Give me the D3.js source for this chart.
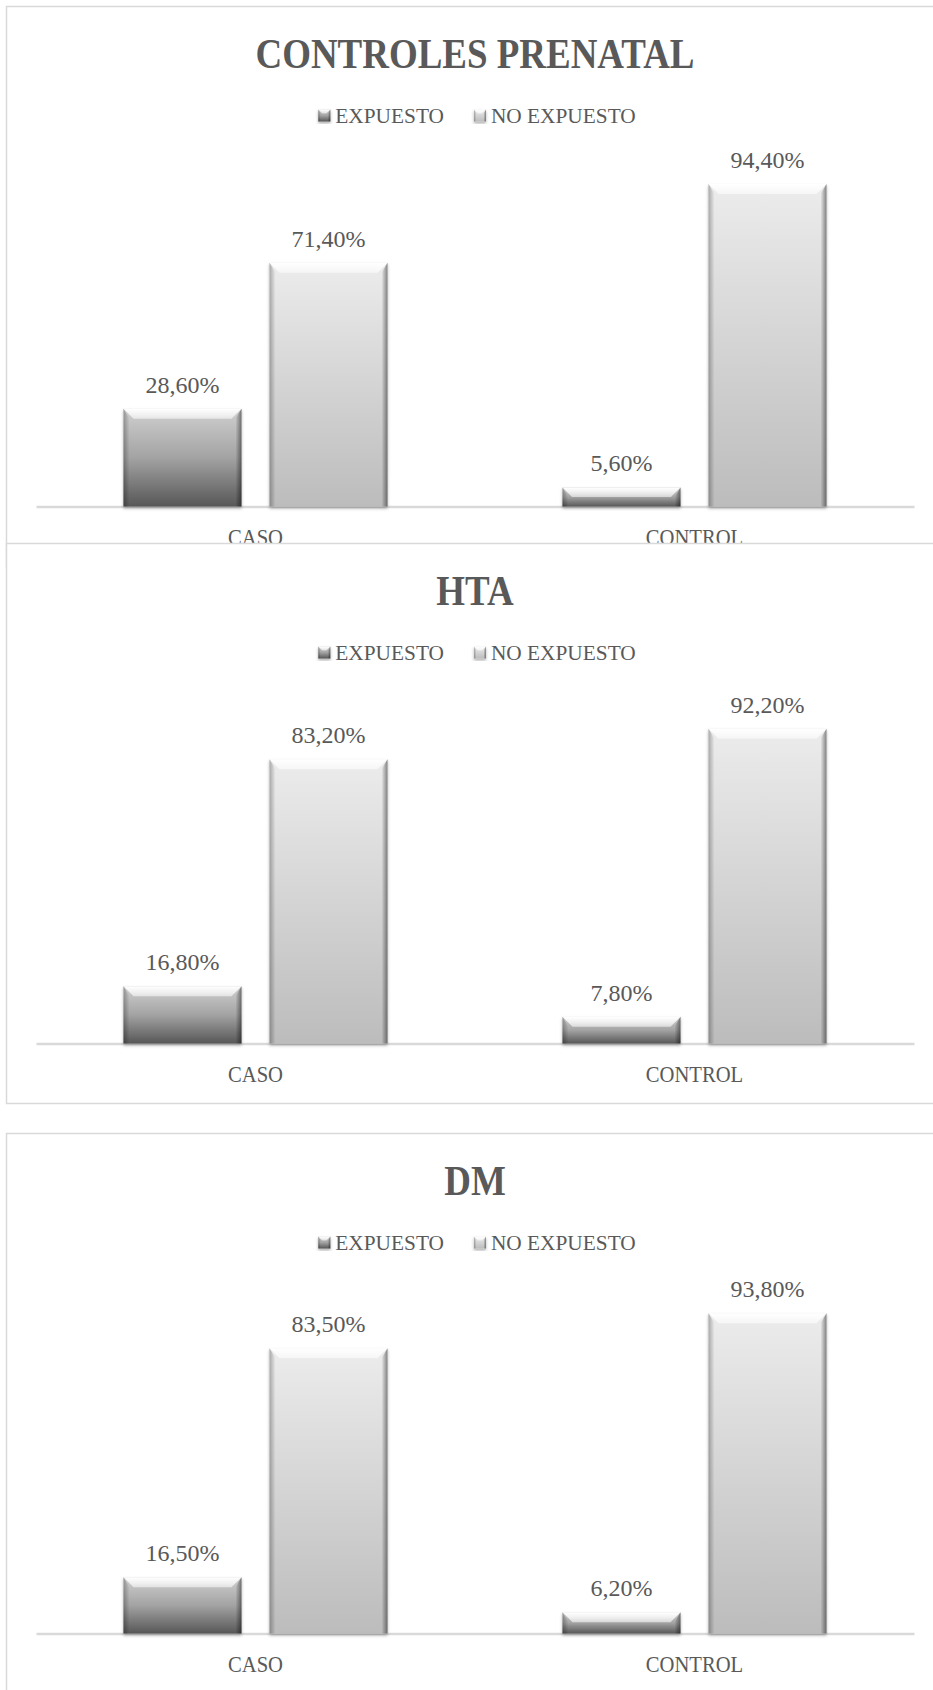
<!DOCTYPE html>
<html><head><meta charset="utf-8">
<script src="https://cdn.jsdelivr.net/npm/d3@7"></script>
<style>html,body{margin:0;padding:0;background:#fff;}svg{display:block;}</style>
</head><body><svg id="c" width="933" height="1690"></svg>
<script>
const categories = ["CASO", "CONTROL"];
const seriesNames = ["EXPUESTO", "NO EXPUESTO"];
const chartTitles = ["CONTROLES PRENATAL", "HTA", "DM"];
const prenatalExpuesto = [28.6, 5.6];
const prenatalNoExpuesto = [71.4, 94.4];
const htaExpuesto = [16.8, 7.8];
const htaNoExpuesto = [83.2, 92.2];
const dmExpuesto = [16.5, 6.2];
const dmNoExpuesto = [83.5, 93.8];
const valueDomain = [0, 100];

const charts = [
  {title: chartTitles[0], values: [prenatalExpuesto, prenatalNoExpuesto], top: 6.5},
  {title: chartTitles[1], values: [htaExpuesto, htaNoExpuesto], top: 543.5},
  {title: chartTitles[2], values: [dmExpuesto, dmNoExpuesto], top: 1133.5}
];

const FONT = "'Liberation Serif', 'DejaVu Serif', serif";
const TXT = "#595959";
const svg = d3.select("#c");
const defs = svg.append("defs");
function linGrad(id, x2, y2, stops) {
  const g = defs.append("linearGradient").attr("id", id)
    .attr("x1", 0).attr("y1", 0).attr("x2", x2).attr("y2", y2);
  stops.forEach(s => g.append("stop").attr("offset", s[0]).attr("stop-color", s[1])
    .attr("stop-opacity", s[2] === undefined ? 1 : s[2]));
}
linGrad("gExp", 0, 1, [[0, "#d0d0d0"], [0.5, "#a3a3a3"], [1, "#575757"]]);
linGrad("gNo", 0, 1, [[0, "#ececec"], [1, "#bcbcbc"]]);
linGrad("gTop", 0, 1, [[0, "#fff", 1], [1, "#fff", 0.55]]);
linGrad("gLeft", 1, 0, [[0, "#000", 0.28], [1, "#000", 0]]);
linGrad("gRight", 1, 0, [[0, "#000", 0], [1, "#000", 0.45]]);
const flt = defs.append("filter").attr("id", "sh")
  .attr("x", "-20%").attr("y", "-20%").attr("width", "140%").attr("height", "140%");
flt.append("feDropShadow").attr("dx", 0).attr("dy", 2).attr("stdDeviation", 1.5)
  .attr("flood-color", "#000").attr("flood-opacity", 0.3);

const fills = ["gExp", "gNo"];

function bevelBar(g, x, y, w, h, fill, b) {
  const grp = g.append("g").attr("filter", "url(#sh)");
  grp.append("rect").attr("x", x).attr("y", y).attr("width", w).attr("height", h)
    .attr("fill", `url(#${fill})`);
  const bb = Math.min(b, h / 2, w / 2);
  const sb = bb * 0.6;
  grp.append("polygon").attr("points", [[x, y], [x + w, y], [x + w - bb, y + bb], [x + bb, y + bb]].join(" "))
    .attr("fill", "url(#gTop)");
  grp.append("polygon").attr("points", [[x, y], [x + sb, y + bb], [x + sb, y + h], [x, y + h]].join(" "))
    .attr("fill", "url(#gLeft)");
  grp.append("polygon").attr("points", [[x + w, y], [x + w, y + h], [x + w - sb, y + h], [x + w - sb, y + bb]].join(" "))
    .attr("fill", "url(#gRight)");
}

const W = 937, H = 560, LEFT = 6.5;
const fmt = v => d3.format(".2f")(v).replace(".", ",") + "%";

charts.forEach(c => {
  const g = svg.append("g").attr("transform", `translate(${LEFT},${c.top})`);
  g.append("rect").attr("width", W).attr("height", H).attr("fill", "#fff")
    .attr("stroke", "#d9d9d9").attr("stroke-width", 1.5);

  const x0 = d3.scaleBand().domain(categories).range([29.5, 907.5]).padding(0);
  const x1 = d3.scaleBand().domain(seriesNames).range([0, x0.bandwidth()])
    .paddingInner(0.192).paddingOuter(0.599);
  const y = d3.scaleLinear().domain(valueDomain).range([500, 158.5]);

  // title
  g.append("text").attr("transform", `translate(${W / 2},61) scale(0.88,1)`)
    .attr("text-anchor", "middle").attr("font-family", FONT).attr("font-weight", "bold")
    .attr("font-size", 42).attr("fill", TXT).text(c.title);

  // legend
  const lg = g.append("g");
  const LS = 0.97;
  let cx = 0;
  seriesNames.forEach((s, i) => {
    const item = lg.append("g").attr("transform", `translate(${cx},0)`);
    bevelBar(item, 0, 103, 12, 12, fills[i], 4);
    const t = item.append("text").attr("transform", `translate(17,116) scale(${LS},1)`)
      .attr("font-family", FONT).attr("font-size", 22).attr("fill", TXT).text(s);
    cx += 17 + t.node().getComputedTextLength() * LS + 30;
  });
  const lw = cx - 30;
  lg.attr("transform", `translate(${W / 2 - lw / 2 + 2},0)`);

  // axis
  const ax = g.append("g").attr("transform", `translate(0,${y(0)})`)
    .call(d3.axisBottom(x0).tickSize(0).tickSizeOuter(0));
  ax.select(".domain").attr("stroke", "#d9d9d9").attr("stroke-width", 2.5);
  ax.selectAll("text").attr("y", 39).attr("dy", null).attr("transform", "scale(0.86,1)")
    .attr("font-family", FONT).attr("font-size", 24).attr("fill", TXT);

  // bars
  categories.forEach((cat, ci) => {
    seriesNames.forEach((s, si) => {
      const v = c.values[si][ci];
      const bx = x0(cat) + x1(s);
      const by = y(v);
      bevelBar(g, bx, by, x1.bandwidth(), y(0) - by, fills[si], 10);
      g.append("text").attr("x", bx + x1.bandwidth() / 2).attr("y", by - 16)
        .attr("text-anchor", "middle").attr("font-family", FONT).attr("font-size", 24)
        .attr("fill", TXT).text(fmt(v));
    });
  });
});
</script></body></html>
